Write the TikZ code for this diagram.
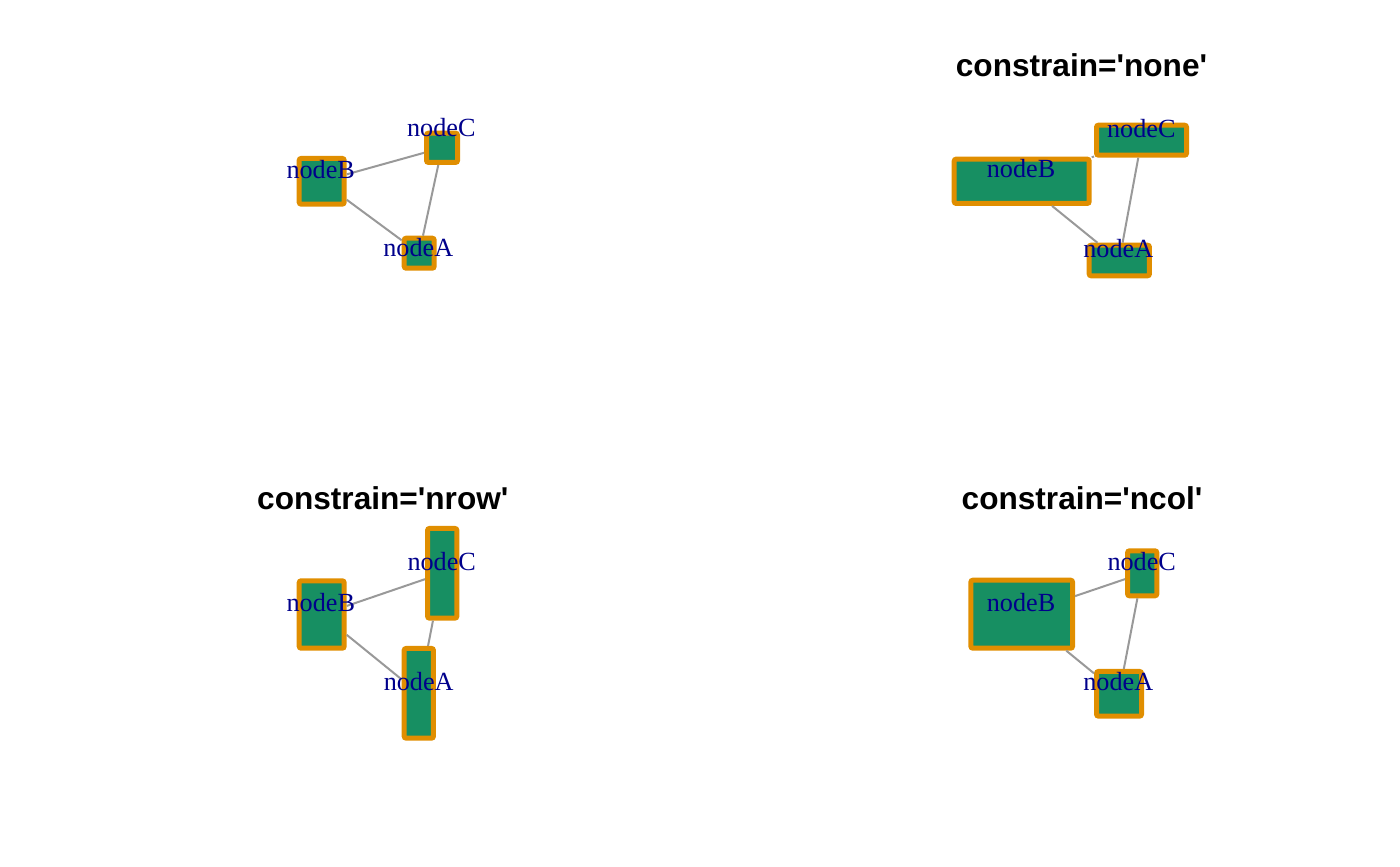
\documentclass[tikz,border=0pt]{standalone}
\usepackage{fontspec}
\setmainfont{Liberation Serif}
\newfontfamily\titrefont{Liberation Sans}
\definecolor{vertnoeud}{RGB}{23,143,98}
\definecolor{orangenoeud}{RGB}{224,142,0}
\definecolor{bleulabel}{RGB}{0,0,139}
\definecolor{grisarete}{RGB}{153,153,153}
\tikzset{
  boite/.style={draw=orangenoeud,fill=vertnoeud,line width=2.5pt,rounded corners=1pt,inner sep=0pt},
  arete/.style={draw=grisarete,line width=1pt},
  etiquette/.style={anchor=base,text=bleulabel,inner sep=0pt,font=\fontsize{13.1}{15}\selectfont},
  titre/.style={anchor=base,inner sep=0pt,font=\titrefont\bfseries\fontsize{15.8}{18}\selectfont}
}
\begin{document}
\begin{tikzpicture}[x=0.5pt,y=-0.5pt] % 1 unite = 1 pixel, y vers le bas (tailles en pt = pixels/2)
\useasboundingbox (0,0) rectangle (1400,866);
% panneau 1 (sans titre)
\node[boite,minimum width=22.5pt,minimum height=22.85pt] (b1) at (321.7,181.3) {};
\node[boite,minimum width=15.5pt,minimum height=14.65pt] (c1) at (442,147.8) {};
\node[boite,minimum width=15pt,minimum height=15pt] (a1) at (419.2,253.2) {};
\draw[arete] (b1)--(c1);
\draw[arete] (b1)--(a1);
\draw[arete] (c1)--(a1);
\node[etiquette] (lc1) at (441.3,136.7) {nodeC};
\node[etiquette] (lb1) at (320.7,178.3) {nodeB};
\node[etiquette] (la1) at (418.3,256.7) {nodeA};
% panneau 2
\node[titre] (t2) at (1081.5,76.5) {constrain='none'};
\node[boite,minimum width=67.5pt,minimum height=22.15pt] (b2) at (1021.7,181.3) {};
\node[boite,minimum width=45pt,minimum height=15pt] (c2) at (1141.5,140.2) {};
\node[boite,minimum width=30.15pt,minimum height=15.3pt] (a2) at (1119.3,260.5) {};
\draw[arete] (b2)--(c2);
\draw[arete] (b2)--(a2);
\draw[arete] (c2)--(a2);
\node[etiquette] (lc2) at (1141.3,137.3) {nodeC};
\node[etiquette] (lb2) at (1021,177.3) {nodeB};
\node[etiquette] (la2) at (1118.3,257.3) {nodeA};
% panneau 3
\node[titre] (t3) at (382.8,509.3) {constrain='nrow'};
\node[boite,minimum width=22.5pt,minimum height=33.7pt] (b3) at (321.7,614.5) {};
\node[boite,minimum width=14.65pt,minimum height=44.85pt] (c3) at (442.2,573.3) {};
\node[boite,minimum width=14.65pt,minimum height=44.85pt] (a3) at (418.8,693.3) {};
\draw[arete] (b3)--(c3);
\draw[arete] (b3)--(a3);
\draw[arete] (c3)--(a3);
\node[etiquette] (lc3) at (441.7,570) {nodeC};
\node[etiquette] (lb3) at (320.8,611.7) {nodeB};
\node[etiquette] (la3) at (418.7,690) {nodeA};
% panneau 4
\node[titre] (t4) at (1082,509.3) {constrain='ncol'};
\node[boite,minimum width=50.85pt,minimum height=34pt] (b4) at (1021.7,614.2) {};
\node[boite,minimum width=14.65pt,minimum height=22.5pt] (c4) at (1142.2,573.3) {};
\node[boite,minimum width=22.5pt,minimum height=22.35pt] (a4) at (1119,693.8) {};
\draw[arete] (b4)--(c4);
\draw[arete] (b4)--(a4);
\draw[arete] (c4)--(a4);
\node[etiquette] (lc4) at (1141.7,570) {nodeC};
\node[etiquette] (lb4) at (1021,611.7) {nodeB};
\node[etiquette] (la4) at (1118.3,690) {nodeA};
\end{tikzpicture}
\end{document}
